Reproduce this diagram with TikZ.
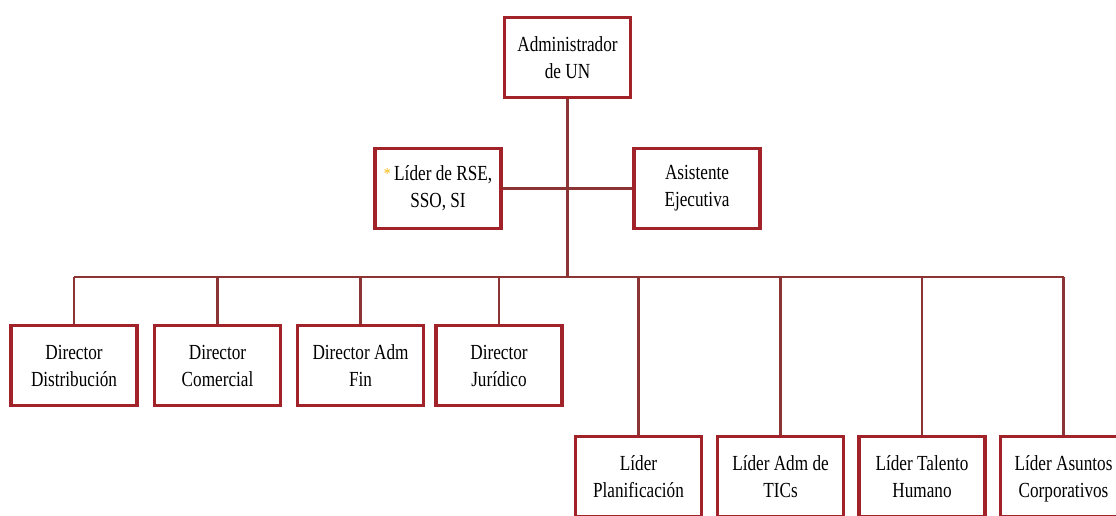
\documentclass[tikz,border=0pt]{standalone}
\usepackage{fontspec}
\setmainfont{Liberation Serif}[FakeStretch=0.8]
\usetikzlibrary{calc}

\definecolor{boxred}{RGB}{162,34,42}
\definecolor{linered}{RGB}{140,52,52}
\definecolor{stargold}{RGB}{245,185,20}

\begin{document}
\begin{tikzpicture}[x=1pt, y=-1pt,
    unit/.style={draw=boxred, line width=3.2pt, fill=white, align=center,
        minimum width=126pt, minimum height=80pt, inner sep=2pt,
        font=\fontsize{21.5}{27}\selectfont},
    link/.style={draw=linered, line width=2.2pt}]

\useasboundingbox (0,0) rectangle (1116,515);

% Top level
\node[unit] (admin) at (567.5, 57.5) {Administrador\\de UN};

% Staff level
\node[unit] (rse)  at (438, 188.5) {\textcolor{stargold}{\fontsize{17}{17}\selectfont\raisebox{1pt}{*}}\,Líder de RSE,\\SSO, SI};
\node[unit] (asis) at (697, 188.5) {Asistente\\Ejecutiva};

% Bus coordinate
\coordinate (bus) at (567.5, 277);

% Directors
\node[unit] (dist) at (74,  365.5) {Director\\Distribución};
\node[unit] (com)  at (217.5, 365.5) {Director\\Comercial};
\node[unit] (adm)  at (360.5, 365.5) {Director Adm\\Fin};
\node[unit] (jur)  at (499, 365.5) {Director\\Jurídico};

% Leaders
\node[unit] (plan) at (638.5, 476.5) {Líder\\Planificación};
\node[unit] (tic)  at (780.5, 476.5) {Líder Adm de\\TICs};
\node[unit] (tal)  at (922,  476.5) {Líder Talento\\Humano};
\node[unit] (asun) at (1063.5, 476.5) {Líder Asuntos\\\smash{Corporativos}};

% Connectors
\draw[link] (admin.south) -- (bus);
\draw[link] (rse.east) -- (asis.west);
\draw[link] (dist.north |- bus) -- (asun.north |- bus);
\foreach \n in {dist, com, adm, jur, plan, tic, tal, asun}
    \draw[link] (\n.north |- bus) -- (\n.north);

\end{tikzpicture}
\end{document}
